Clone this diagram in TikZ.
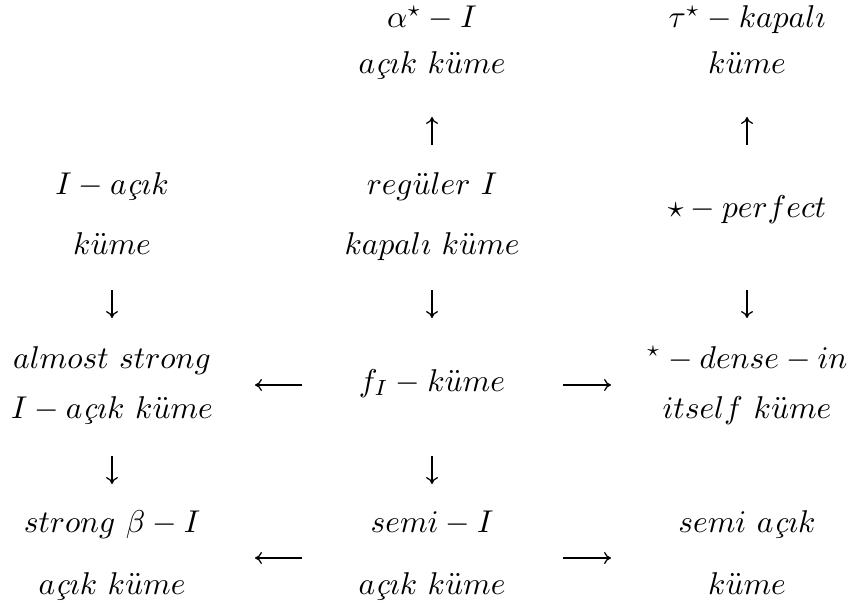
\documentclass[tikz,border=0pt]{standalone}
\usetikzlibrary{arrows.meta,calc}
\newcommand{\myc}{\mbox{\itshape ç}}
\newcommand{\kume}{k\ddot{u}me}
\newcommand{\acik}{a\myc\imath k}
\begin{document}
\begin{tikzpicture}[x=0.3175pt,y=-0.3175pt,
  lbl/.style={anchor=base,inner sep=0pt,outer sep=0pt},
  arr/.style={line width=0.4pt,-{Computer Modern Rightarrow[length=2.2pt,width=3.8pt]}}]
\useasboundingbox (0,0) rectangle (853,611);
% top
\node[lbl] (aI)  at (432,28) {$\alpha^\star - I$};
\node[lbl] (aK1) at (432,74) {$\acik\ \kume$};
\node[lbl] (tK)  at (747,28) {$\tau^\star - kapal\imath$};
\node[lbl] (kR1) at (747,74) {$\kume$};
% second block
\node[lbl] (IA)  at (112,195) {$I - \acik$};
\node[lbl] (kL)  at (112,254) {$\kume$};
\node[lbl] (reg) at (432,195) {$reg\ddot{u}ler\ I$};
\node[lbl] (kap) at (432,254) {$kapal\imath\ \kume$};
\node[lbl] (perf) at (747,218) {$\star - perfect$};
% third block
\node[lbl] (alm) at (112,368) {$almost\ strong$};
\node[lbl] (IAK) at (112,418) {$I - \acik\ \kume$};
\node[lbl] (fI)  at (432,391) {$f_I - \kume$};
\node[lbl] (dense) at (747,368) {$^\star - dense - in$};
\node[lbl] (itself) at (747,418) {$itself\ \kume$};
% bottom block
\node[lbl] (strB) at (112,532) {$strong\ \beta - I$};
\node[lbl] (acL)  at (112,594) {$\acik\ \kume$};
\node[lbl] (semiI) at (432,532) {$semi - I$};
\node[lbl] (acM)  at (432,594) {$\acik\ \kume$};
\node[lbl] (semiA) at (747,532) {$semi\ \acik$};
\node[lbl] (kR2)  at (747,594) {$\kume$};
% vertical arrows
\draw[arr] ($(reg.base)+(0,-50)$) -- ($(aK1.base)+(0,43)$);
\draw[arr] ($(perf.base)+(0,-73)$) -- ($(kR1.base)+(0,43)$);
\draw[arr] ($(kL.base)+(0,36)$) -- ($(alm.base)+(0,-50)$);
\draw[arr] ($(kap.base)+(0,36)$) -- ($(fI.base)+(0,-73)$);
\draw[arr] ($(perf.base)+(0,72)$) -- ($(dense.base)+(0,-50)$);
\draw[arr] ($(IAK.base)+(0,38)$) -- ($(strB.base)+(0,-48)$);
\draw[arr] ($(fI.base)+(0,65)$) -- ($(semiI.base)+(0,-48)$);
% horizontal arrows
\draw[arr] ($(fI.base)+(-130,-6)$) -- ($(alm.base)+(143,17)$);
\draw[arr] ($(fI.base)+(131,-6)$) -- ($(dense.base)+(-136,17)$);
\draw[arr] ($(semiI.base)+(-130,26)$) -- ($(strB.base)+(143,26)$);
\draw[arr] ($(semiI.base)+(131,26)$) -- ($(semiA.base)+(-136,26)$);
\end{tikzpicture}
\end{document}
